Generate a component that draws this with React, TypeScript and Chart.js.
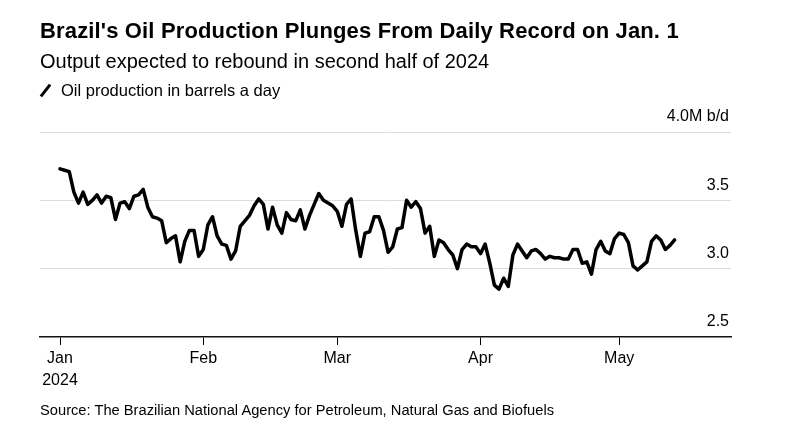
import React, { useEffect, useRef } from 'react';
import { Chart, registerables } from 'chart.js';

Chart.register(...registerables);

// Days since Jan 1, 2024 where each month starts
const monthStartDays = [0, 31, 60, 91, 121];
const monthLabels = ['Jan', 'Feb', 'Mar', 'Apr', 'May'];
const yearLabel = '2024';

const yTickValues = [2.5, 3.0, 3.5, 4.0];
const yTickLabels = ['2.5', '3.0', '3.5', '4.0M b/d'];

// Daily oil production (million barrels a day), starting Jan 1, 2024
const production = [
  3.73, 3.72, 3.71, 3.56, 3.48, 3.56, 3.47, 3.5, 3.54, 3.48,
  3.53, 3.52, 3.36, 3.48, 3.49, 3.44, 3.53, 3.54, 3.58, 3.45,
  3.38, 3.37, 3.35, 3.19, 3.22, 3.24, 3.05, 3.2, 3.28, 3.28,
  3.09, 3.14, 3.32, 3.38, 3.24, 3.18, 3.17, 3.07, 3.13, 3.31,
  3.35, 3.39, 3.46, 3.51, 3.47, 3.29, 3.45, 3.32, 3.26, 3.41,
  3.36, 3.35, 3.43, 3.29, 3.39, 3.47, 3.55, 3.5, 3.48, 3.46,
  3.42, 3.31, 3.47, 3.51, 3.28, 3.09, 3.26, 3.27, 3.38, 3.38,
  3.28, 3.12, 3.16, 3.29, 3.3, 3.5, 3.45, 3.49, 3.44, 3.26,
  3.31, 3.09, 3.21, 3.19, 3.14, 3.1, 3.0, 3.14, 3.18, 3.16,
  3.16, 3.11, 3.18, 3.04, 2.88, 2.85, 2.93, 2.87, 3.1, 3.18,
  3.13, 3.08, 3.13, 3.14, 3.11, 3.07, 3.09, 3.08, 3.08, 3.07,
  3.07, 3.14, 3.14, 3.04, 3.05, 2.96, 3.14, 3.2, 3.13, 3.11,
  3.22, 3.26, 3.25, 3.19, 3.02, 2.99, 3.02, 3.05, 3.2, 3.24,
  3.21, 3.14, 3.17, 3.21,
];

const FONT = '"Liberation Sans", Arial, Helvetica, sans-serif';

export default function App() {
  const canvasRef = useRef<HTMLCanvasElement | null>(null);

  useEffect(() => {
    document.body.style.margin = '0';
    const canvas = canvasRef.current;
    if (!canvas) return;
    const chart = new Chart(canvas, {
      type: 'line',
      data: {
        datasets: [
          {
            label: 'Oil production in barrels a day',
            data: production.map((v, i) => ({ x: i, y: v })),
            borderColor: '#000',
            borderWidth: 3.5,
            borderJoinStyle: 'round',
            borderCapStyle: 'round',
            pointRadius: 0,
            tension: 0,
            fill: false,
          },
        ],
      },
      options: {
        animation: false,
        responsive: false,
        maintainAspectRatio: false,
        layout: { padding: { left: 40, right: 67, top: 132, bottom: 34 } },
        plugins: {
          legend: { display: false },
          tooltip: { enabled: false },
          title: { display: false },
        },
        scales: {
          x: {
            type: 'linear',
            min: -4.33,
            max: 145.2,
            afterBuildTicks: (s: any) => {
              s.ticks = monthStartDays.map((v) => ({ value: v }));
            },
            afterFit: (s: any) => {
              s.height = 60;
            },
            grid: {
              drawOnChartArea: false,
              drawTicks: true,
              tickLength: 8,
              color: '#000',
              lineWidth: 1,
            },
            border: { display: true, color: '#111', width: 1.5 },
            ticks: {
              autoSkip: false,
              maxRotation: 0,
              padding: 3,
              color: '#000',
              font: { family: FONT, size: 16, lineHeight: 1.35 },
              callback: (_v: any, i: number) =>
                i === 0 ? [monthLabels[0], yearLabel] : monthLabels[i],
            },
          },
          y: {
            position: 'right',
            min: 2.5,
            max: 4.0,
            afterBuildTicks: (s: any) => {
              s.ticks = yTickValues.map((v) => ({ value: v }));
            },
            afterFit: (s: any) => {
              s.width = 0;
            },
            grid: {
              drawTicks: false,
              lineWidth: 1,
              color: (ctx: any) =>
                ctx.tick && ctx.tick.value === 2.5 ? 'rgba(0,0,0,0)' : '#dcdcdc',
            },
            border: { display: false },
            ticks: {
              mirror: true,
              padding: -2,
              labelOffset: -15,
              autoSkip: false,
              color: '#000',
              font: { family: FONT, size: 16 },
              callback: (_v: any, i: number) => yTickLabels[i],
            },
          },
        },
      },
    });
    return () => chart.destroy();
  }, []);

  return (
    <div
      style={{
        position: 'absolute',
        left: 0,
        top: 0,
        width: 798,
        height: 431,
        background: '#fff',
        fontFamily: FONT,
        color: '#000',
      }}
    >
      <canvas
        ref={canvasRef}
        width={798}
        height={431}
        style={{ position: 'absolute', left: 0, top: 0, width: 798, height: 431 }}
      />
      <div
        style={{
          position: 'absolute',
          left: 40,
          top: 18,
          fontSize: 22,
          lineHeight: '26px',
          fontWeight: 'bold',
          whiteSpace: 'nowrap',
          letterSpacing: '0.15px',
        }}
      >
        Brazil's Oil Production Plunges From Daily Record on Jan. 1
      </div>
      <div
        style={{
          position: 'absolute',
          left: 40,
          top: 49,
          fontSize: 20,
          lineHeight: '24px',
          whiteSpace: 'nowrap',
        }}
      >
        Output expected to rebound in second half of 2024
      </div>
      <div
        style={{
          position: 'absolute',
          left: 44,
          top: 83,
          width: 3,
          height: 15,
          background: '#000',
          transform: 'rotate(38deg)',
        }}
      />
      <div
        style={{
          position: 'absolute',
          left: 61,
          top: 80,
          fontSize: 16.5,
          lineHeight: '20px',
          whiteSpace: 'nowrap',
        }}
      >
        Oil production in barrels a day
      </div>
      <div
        style={{
          position: 'absolute',
          left: 40,
          top: 401,
          fontSize: 14.7,
          lineHeight: '18px',
          whiteSpace: 'nowrap',
        }}
      >
        Source: The Brazilian National Agency for Petroleum, Natural Gas and Biofuels
      </div>
    </div>
  );
}
